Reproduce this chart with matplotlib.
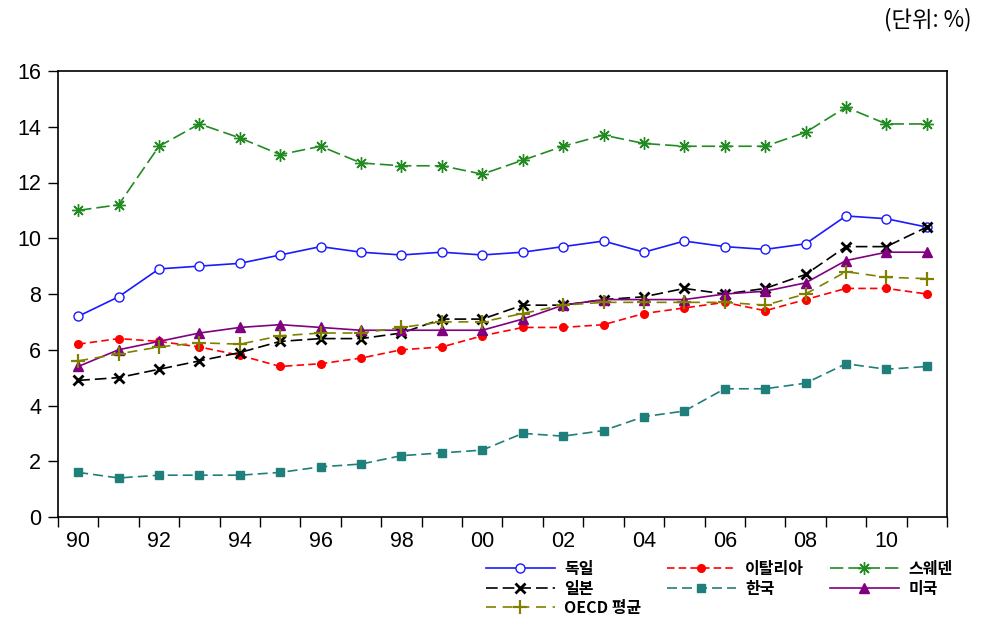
import matplotlib
matplotlib.use("Agg")
import matplotlib.pyplot as plt
from matplotlib.ticker import FixedLocator, NullFormatter, FixedFormatter

plt.rcParams['font.family'] = ['Liberation Sans', 'Noto Sans CJK KR', 'DejaVu Sans']

years = list(range(1990, 2012))
germany = [7.2, 7.9, 8.9, 9.0, 9.1, 9.4, 9.7, 9.5, 9.4, 9.5, 9.4, 9.5, 9.7, 9.9, 9.5, 9.9, 9.7, 9.6, 9.8, 10.8, 10.7, 10.4]
italy = [6.2, 6.4, 6.3, 6.1, 5.8, 5.4, 5.5, 5.7, 6.0, 6.1, 6.5, 6.8, 6.8, 6.9, 7.3, 7.5, 7.7, 7.4, 7.8, 8.2, 8.2, 8.0]
sweden = [11.0, 11.2, 13.3, 14.1, 13.6, 13.0, 13.3, 12.7, 12.6, 12.6, 12.3, 12.8, 13.3, 13.7, 13.4, 13.3, 13.3, 13.3, 13.8, 14.7, 14.1, 14.1]
japan = [4.9, 5.0, 5.3, 5.6, 5.9, 6.3, 6.4, 6.4, 6.6, 7.1, 7.1, 7.6, 7.6, 7.8, 7.9, 8.2, 8.0, 8.2, 8.7, 9.7, 9.7, 10.4]
korea = [1.6, 1.4, 1.5, 1.5, 1.5, 1.6, 1.8, 1.9, 2.2, 2.3, 2.4, 3.0, 2.9, 3.1, 3.6, 3.8, 4.6, 4.6, 4.8, 5.5, 5.3, 5.4]
usa = [5.4, 6.0, 6.3, 6.6, 6.8, 6.9, 6.8, 6.7, 6.7, 6.7, 6.7, 7.1, 7.6, 7.8, 7.8, 7.8, 8.0, 8.1, 8.4, 9.2, 9.5, 9.5]
oecd = [5.6, 5.85, 6.1, 6.25, 6.2, 6.5, 6.6, 6.6, 6.8, 7.0, 7.0, 7.3, 7.6, 7.7, 7.7, 7.7, 7.7, 7.6, 8.0, 8.8, 8.6, 8.55]

labels = ['독일', '이탈리아', '스웨덴', '일본', '한국', '미국', 'OECD 평균']
xtick_years = [1990, 1992, 1994, 1996, 1998, 2000, 2002, 2004, 2006, 2008, 2010]
yticks = [0, 2, 4, 6, 8, 10, 12, 14, 16]

fig = plt.figure(figsize=(10, 6.42), dpi=100)
ax = fig.add_axes([0.058, 1 - 517/642, 0.889, (517 - 71)/642])

lw = 1.2
h_de, = ax.plot(years, germany, color='#1a1aff', lw=lw, ls='-', marker='o', ms=6.5,
                mfc='white', mec='#1a1aff', mew=1.0, label=labels[0])
h_it, = ax.plot(years, italy, color='#ff0000', lw=lw, ls=(0, (4.5, 2.5)), marker='o', ms=5.5,
                mfc='#ff0000', mec='#ff0000', label=labels[1])
h_se, = ax.plot(years, sweden, color='#228b22', lw=lw, ls=(0, (8, 3)), marker=(8, 2, 0), ms=9,
                mec='#228b22', mew=1.0, label=labels[2])
h_jp, = ax.plot(years, japan, color='black', lw=lw, ls=(0, (7, 3)), marker='x', ms=7,
                mec='black', mew=2.0, label=labels[3])
h_kr, = ax.plot(years, korea, color='#1f7f7b', lw=lw, ls=(0, (6, 3)), marker='s', ms=6,
                mfc='#1f7f7b', mec='#1f7f7b', label=labels[4])
h_us, = ax.plot(years, usa, color='#800080', lw=lw, ls='-', marker='^', ms=7,
                mfc='#800080', mec='#800080', label=labels[5])
h_oe, = ax.plot(years, oecd, color='#808000', lw=lw, ls=(0, (6, 4)), marker='+', ms=10,
                mec='#808000', mew=1.6, label=labels[6])

ax.set_xlim(1989.5, 2011.5)
ax.set_ylim(0, 16)

ax.xaxis.set_major_locator(FixedLocator([1989.5 + k for k in range(23)]))
ax.xaxis.set_major_formatter(NullFormatter())
ax.xaxis.set_minor_locator(FixedLocator(xtick_years))
ax.xaxis.set_minor_formatter(FixedFormatter([f"{y % 100:02d}" for y in xtick_years]))
ax.tick_params(axis='x', which='major', direction='out', length=7, width=1.0)
ax.tick_params(axis='x', which='minor', length=0, pad=10, labelsize=15.5)

ax.set_yticks(yticks)
ax.set_yticklabels([str(v) for v in yticks])
ax.tick_params(axis='y', direction='out', length=7, width=1.0, pad=5, labelsize=15.5)

for s in ax.spines.values():
    s.set_linewidth(1.2)

handles = [h_de, h_jp, h_oe, h_it, h_kr, h_se, h_us]
leg = fig.legend(handles=handles, labels=[h.get_label() for h in handles],
                 loc='upper left', bbox_to_anchor=(486/1000, 1 - 561/642),
                 ncol=3, frameon=False, handlelength=4.3, handletextpad=0.6,
                 columnspacing=1.6, labelspacing=0.22, borderpad=0, borderaxespad=0,
                 prop={'family': ['Noto Sans CJK KR', 'DejaVu Sans'], 'weight': 'bold', 'size': 11.5})

fig.text(971/1000, 1 - 20/642, '(단위: %)', ha='right', va='center', fontsize=16,
         family=['Noto Sans CJK KR', 'DejaVu Sans'])

fig.savefig('out.png', dpi=100)
